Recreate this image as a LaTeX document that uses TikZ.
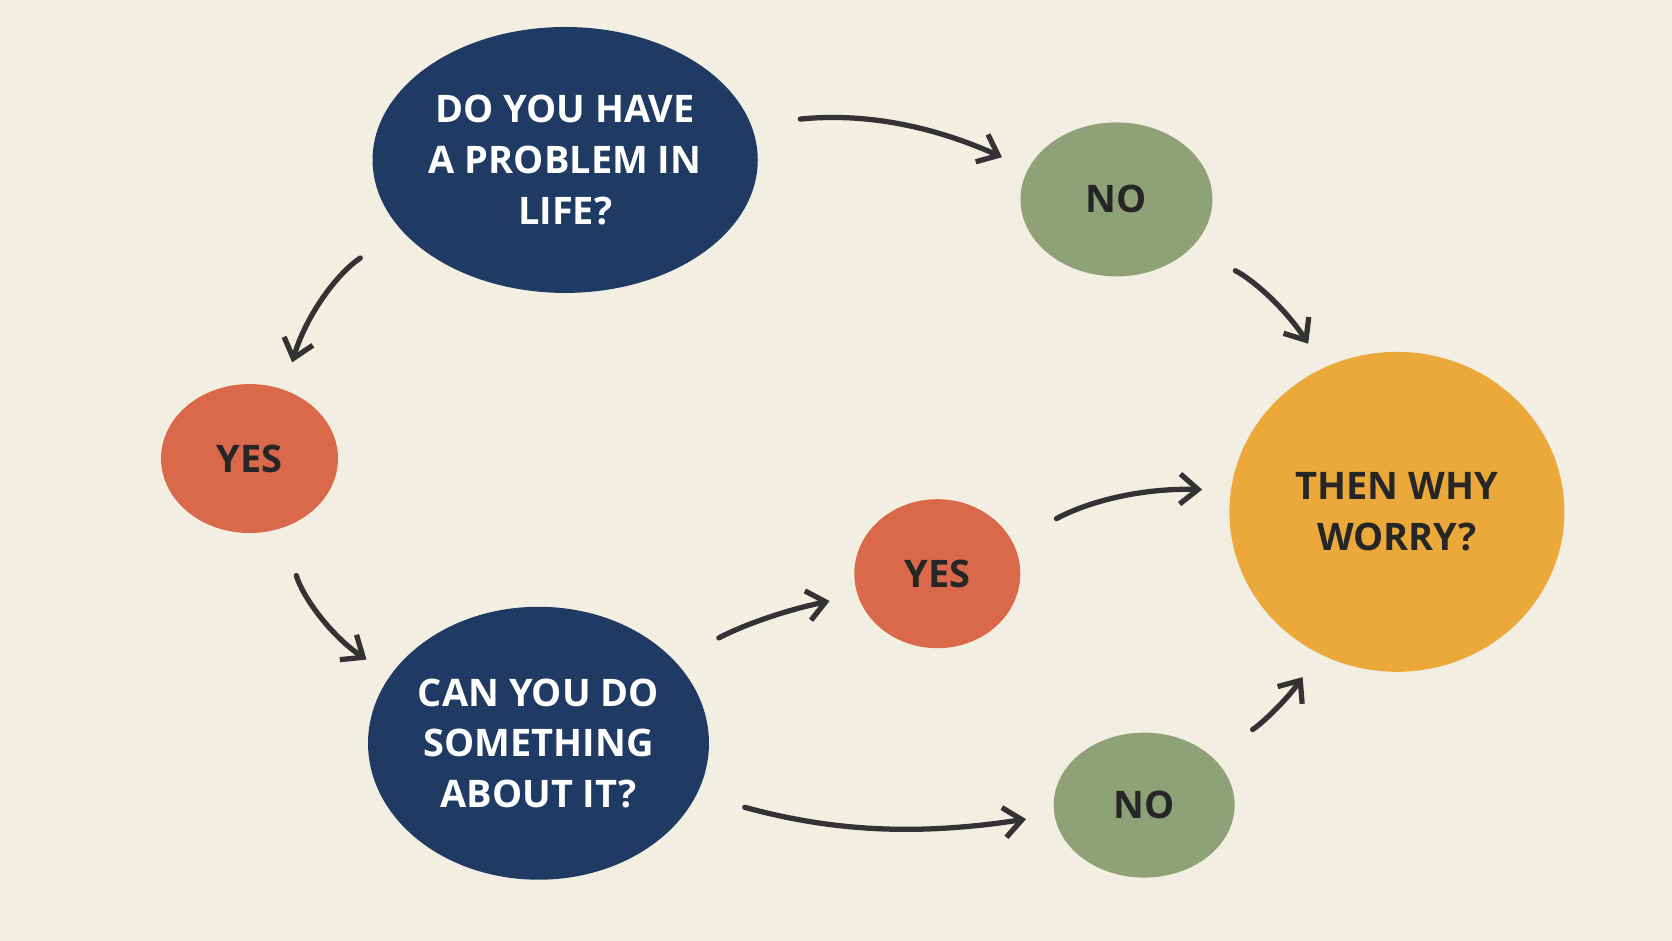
\documentclass[tikz,border=0pt]{standalone}
\usepackage{fontspec}
\setmainfont{Open Sans}
\usetikzlibrary{arrows.meta, shapes.geometric}
\definecolor{paper}{HTML}{F3EEE2}
\definecolor{navy}{HTML}{1F3A63}
\definecolor{sage}{HTML}{8FA277}
\definecolor{rust}{HTML}{D9694A}
\definecolor{amber}{HTML}{EAA93A}
\definecolor{ink}{HTML}{333333}
\begin{document}
\begin{tikzpicture}[
  x=0.01066cm, y=-0.01066cm,
  font=\bfseries\fontsize{10.8}{14.4}\selectfont,
  blob/.style = {ellipse, inner sep=0pt, align=center},
  question/.style = {blob, fill=navy, text=white},
  answer/.style = {blob, text=black!85},
  arrow/.style = {-{Straight Barb[length=1.8mm, width=3mm]}, ink,
                  line width=1.5pt, line cap=round, shorten <=14pt, shorten >=8pt}
]
% background
\fill[paper] (0,0) rectangle (1568,882);

% Questions
\node[question, minimum width=3.52cm, minimum height=2.66cm] (problem) at (530,150)
  {DO YOU HAVE\\A PROBLEM IN\\LIFE?};
\node[question, minimum width=3.41cm, minimum height=2.73cm] (cando) at (505,697)
  {CAN YOU DO\\SOMETHING\\ABOUT IT?};

% Answers
\node[answer, fill=sage, minimum width=1.92cm, minimum height=1.54cm] (no_top) at (1047,187) {NO};
\node[answer, fill=rust, minimum width=1.77cm, minimum height=1.49cm] (yes_left) at (234,430) {YES};
\node[answer, fill=rust, minimum width=1.66cm, minimum height=1.49cm] (yes_mid) at (879,538) {YES};
\node[answer, fill=sage, minimum width=1.81cm, minimum height=1.45cm] (no_bot) at (1073,755) {NO};
\node[answer, fill=amber, minimum width=3.35cm, minimum height=3.2cm] (worry) at (1310,480)
  {THEN WHY\\WORRY?};

% Arrows
\draw[arrow] (problem) to[bend left=15] (no_top);
\draw[arrow] (problem) to[bend right=20] (yes_left);
\draw[arrow] (no_top) to[bend left=15] (worry);
\draw[arrow] (yes_left) to[bend right=20] (cando);
\draw[arrow] (cando) to[bend left=8] (yes_mid);
\draw[arrow] (cando) to[bend right=12] (no_bot);
\draw[arrow] (yes_mid) to[bend left=15] (worry);
\draw[arrow] (no_bot) to[bend right=12] (worry);
\end{tikzpicture}
\end{document}
